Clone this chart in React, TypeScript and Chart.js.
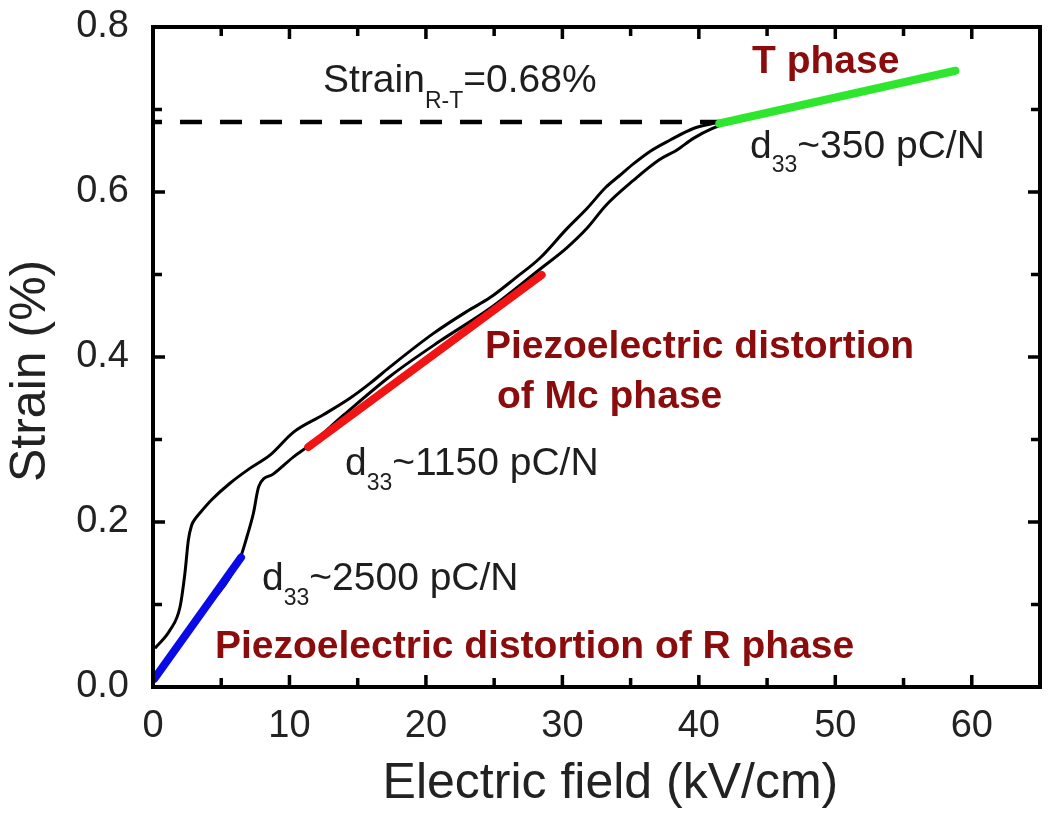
import React, { useEffect, useRef } from "react";
import { Chart, registerables } from "chart.js";
Chart.register(...registerables);

const FONT = '"Liberation Sans", Arial, Helvetica, sans-serif';

// Rising (lower) branch of the strain loop
const lowerFieldKV = [0.1, 3, 6.4, 6.9, 7.35, 7.75, 8.8, 10.3, 11.3, 14, 17.4, 21, 24.7, 28.4, 30.3, 31.8, 33.2, 35.2, 37.1, 38.4, 39.6, 41.0, 42.5, 45, 50, 55, 58.8];
const lowerStrain = [0.010, 0.079, 0.157, 0.183, 0.210, 0.243, 0.258, 0.279, 0.291, 0.330, 0.377, 0.419, 0.459, 0.507, 0.532, 0.556, 0.584, 0.614, 0.639, 0.651, 0.665, 0.677, 0.686, 0.695, 0.713, 0.731, 0.745];

// Falling (upper) branch of the strain loop
const upperFieldKV = [0.15, 1.25, 1.98, 2.34, 2.59, 2.83, 3.1, 3.44, 4.3, 5.64, 7.1, 8.57, 10.3, 12.48, 14.43, 15.9, 17.37, 20.5, 22.98, 24.7, 26.5, 28.36, 30.3, 31.8, 33.2, 34.2, 35.2, 36.5, 37.9, 39.6, 41.0, 42.5, 45, 50, 55, 58.8];
const upperStrain = [0.047, 0.069, 0.097, 0.138, 0.178, 0.196, 0.204, 0.211, 0.227, 0.247, 0.265, 0.281, 0.309, 0.330, 0.350, 0.368, 0.388, 0.428, 0.455, 0.472, 0.495, 0.520, 0.555, 0.580, 0.606, 0.620, 0.634, 0.650, 0.663, 0.677, 0.683, 0.688, 0.697, 0.715, 0.733, 0.747];

// Linear fits
const rFitKV = [0.1, 6.45];
const rFitStrain = [0.010, 0.157];
const mcFitKV = [11.38, 28.48];
const mcFitStrain = [0.291, 0.4994];
const tFitKV = [41.5, 58.8];
const tFitStrain = [0.683, 0.747];

// Dashed reference level
const rtLevelKV = [0, 42];
const rtLevelStrain = [0.685, 0.685];

const toPts = (xs: number[], ys: number[]) => xs.map((x, i) => ({ x, y: ys[i] }));

const DARK_RED = "#8a0c0c";
const TEXT = "#1e1e1e";

type Part = { t: string; size: number; bold?: boolean; dy?: number };
type Ann = { x: number; y: number; color: string; parts: Part[] };

const annotations: Ann[] = [
  { x: 12.46, y: 0.721, color: TEXT, parts: [{ t: "Strain", size: 39 }, { t: "R-T", size: 23, dy: 16 }, { t: "=0.68%", size: 39 }] },
  { x: 43.9, y: 0.744, color: DARK_RED, parts: [{ t: "T phase", size: 39, bold: true }] },
  { x: 43.75, y: 0.641, color: TEXT, parts: [{ t: "d", size: 39 }, { t: "33", size: 23, dy: 14 }, { t: "~350 pC/N", size: 39 }] },
  { x: 24.33, y: 0.399, color: DARK_RED, parts: [{ t: "Piezoelectric distortion", size: 39, bold: true }] },
  { x: 25.2, y: 0.338, color: DARK_RED, parts: [{ t: "of Mc phase", size: 39, bold: true }] },
  { x: 14.07, y: 0.257, color: TEXT, parts: [{ t: "d", size: 39 }, { t: "33", size: 23, dy: 15 }, { t: "~1150 pC/N", size: 39 }] },
  { x: 7.99, y: 0.1176, color: TEXT, parts: [{ t: "d", size: 39 }, { t: "33", size: 23, dy: 15 }, { t: "~2500 pC/N", size: 39 }] },
  { x: 4.54, y: 0.035, color: DARK_RED, parts: [{ t: "Piezoelectric distortion of R phase", size: 39, bold: true }] },
];

const framePlugin = {
  id: "frameAndNotes",
  afterDraw(chart: any) {
    const { ctx, chartArea, scales } = chart;
    const { left, right, top, bottom } = chartArea;
    const xs = scales.x;
    const ys = scales.y;
    ctx.save();
    ctx.strokeStyle = "#000";
    ctx.lineWidth = 3.5;
    ctx.lineCap = "butt";
    ctx.beginPath();
    xs.ticks.forEach((t: any) => {
      const px = xs.getPixelForValue(t.value);
      const len = Math.round(t.value) % 10 === 0 ? 12 : 9;
      ctx.moveTo(px, bottom);
      ctx.lineTo(px, bottom - len);
      ctx.moveTo(px, top);
      ctx.lineTo(px, top + len);
    });
    ys.ticks.forEach((t: any) => {
      const py = ys.getPixelForValue(t.value);
      const len = Math.round(t.value * 10) % 2 === 0 ? 12 : 9;
      ctx.moveTo(left, py);
      ctx.lineTo(left + len, py);
      ctx.moveTo(right, py);
      ctx.lineTo(right - len, py);
    });
    ctx.stroke();
    ctx.lineWidth = 4;
    ctx.strokeRect(left, top, right - left, bottom - top);

    ctx.textBaseline = "alphabetic";
    ctx.textAlign = "left";
    annotations.forEach((a) => {
      let px = xs.getPixelForValue(a.x);
      const py = ys.getPixelForValue(a.y);
      ctx.fillStyle = a.color;
      a.parts.forEach((p) => {
        ctx.font = `${p.bold ? "bold " : ""}${p.size}px ${FONT}`;
        ctx.fillText(p.t, px, py + (p.dy || 0));
        px += ctx.measureText(p.t).width;
      });
    });
    ctx.restore();
  },
};

export default function App() {
  const ref = useRef<HTMLCanvasElement>(null);
  useEffect(() => {
    const chart = new Chart(ref.current as HTMLCanvasElement, {
      type: "scatter",
      data: {
        datasets: [
          {
            data: toPts(rFitKV, rFitStrain),
            showLine: true,
            borderColor: "#0a0ae6",
            borderWidth: 8,
            pointRadius: 0,
            borderCapStyle: "round",
            order: 0,
          },
          {
            data: toPts(mcFitKV, mcFitStrain),
            showLine: true,
            borderColor: "#f01414",
            borderWidth: 8,
            pointRadius: 0,
            borderCapStyle: "round",
            order: 0,
          },
          {
            data: toPts(tFitKV, tFitStrain),
            showLine: true,
            borderColor: "#2ee62e",
            borderWidth: 8,
            pointRadius: 0,
            borderCapStyle: "round",
            order: 0,
          },
          {
            data: toPts(lowerFieldKV, lowerStrain),
            showLine: true,
            borderColor: "#000",
            borderWidth: 3,
            pointRadius: 0,
            cubicInterpolationMode: "monotone",
            order: 1,
          },
          {
            data: toPts(upperFieldKV, upperStrain),
            showLine: true,
            borderColor: "#000",
            borderWidth: 3,
            pointRadius: 0,
            cubicInterpolationMode: "monotone",
            order: 1,
          },
          {
            data: toPts(rtLevelKV, rtLevelStrain),
            showLine: true,
            borderColor: "#000",
            borderWidth: 4.5,
            borderDash: [22, 18],
            borderDashOffset: 13,
            pointRadius: 0,
            order: 1,
          },
        ],
      },
      options: {
        responsive: false,
        animation: false,
        devicePixelRatio: 1,
        layout: { padding: { top: 27, right: 10, left: 0, bottom: 0 } },
        plugins: { legend: { display: false }, tooltip: { enabled: false } },
        scales: {
          x: {
            type: "linear",
            min: 0,
            max: 65,
            grid: { display: false },
            border: { display: false },
            ticks: {
              stepSize: 5,
              autoSkip: false,
              maxRotation: 0,
              padding: 9,
              color: "#222",
              font: { size: 38, family: FONT },
              callback: (v: any) => (Math.round(v) % 10 === 0 ? String(Math.round(v)) : ""),
            },
            title: {
              display: true,
              text: "\u00A0\u00A0Electric field (kV/cm)",
              color: "#222",
              font: { size: 50, family: FONT },
              padding: { top: 0, bottom: 10 },
            },
            afterFit: (s: any) => {
              s.height = 137;
              s.paddingLeft = 0;
              s.paddingRight = 0;
            },
          },
          y: {
            type: "linear",
            min: 0,
            max: 0.8,
            grid: { display: false },
            border: { display: false },
            ticks: {
              stepSize: 0.1,
              autoSkip: false,
              padding: 16,
              color: "#222",
              font: { size: 38, family: FONT },
              callback: (v: any) => (Math.round(v * 10) % 2 === 0 ? Number(v).toFixed(1) : ""),
            },
            title: {
              display: true,
              text: "Strain (%)\u00A0\u00A0",
              color: "#222",
              font: { size: 50, family: FONT },
              padding: { top: 1, bottom: 0 },
            },
            afterFit: (s: any) => {
              s.width = 153;
              s.paddingTop = 0;
              s.paddingBottom = 0;
            },
          },
        },
      },
      plugins: [framePlugin],
    } as any);
    return () => chart.destroy();
  }, []);
  return (
    <div style={{ position: "absolute", left: 0, top: 0, width: 1050, height: 824, background: "#fff" }}>
      <canvas ref={ref} width={1050} height={824} style={{ display: "block" }} />
    </div>
  );
}
